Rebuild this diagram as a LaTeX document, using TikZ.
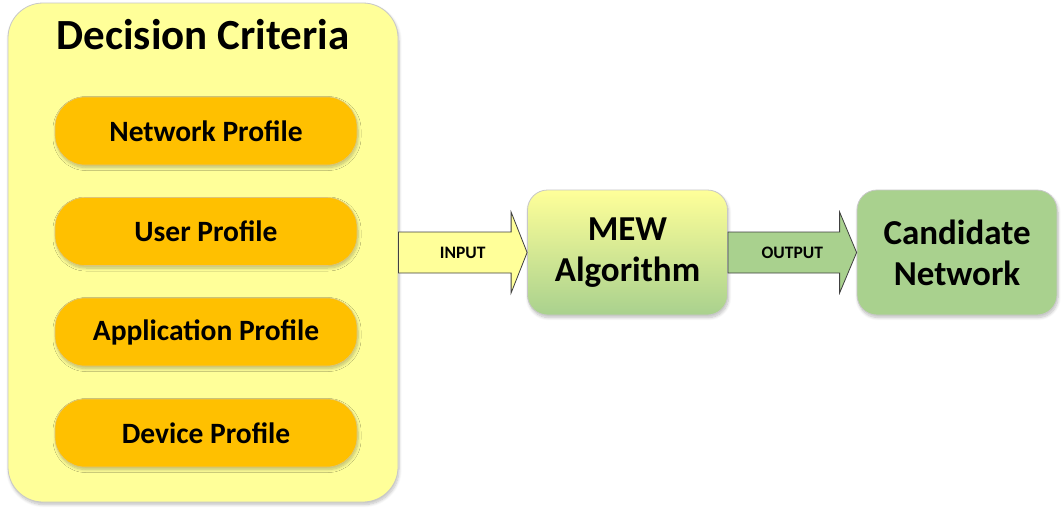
\documentclass[tikz,border=0pt]{standalone}
\usepackage{fontspec}
\setmainfont{Carlito}
\usetikzlibrary{calc,shadows.blur}
\definecolor{critfill}{HTML}{FFFF99}
\definecolor{profilefill}{HTML}{FFC000}
\definecolor{greenfill}{HTML}{A9D18E}
\definecolor{boxline}{HTML}{C8C8C8}
\definecolor{arrowline}{HTML}{404040}
\tikzset{
  softshadow/.style={blur shadow={shadow blur steps=8,shadow xshift=1pt,shadow yshift=-2.5pt,shadow opacity=25,shadow blur radius=3pt}},
  container/.style={draw=boxline,line width=0.8pt,fill=critfill,rounded corners=35pt,
    minimum width=390pt,minimum height=499pt,softshadow},
  profile/.style={draw=boxline!60!profilefill,line width=0.6pt,fill=profilefill,rounded corners=30pt,
    minimum width=302pt,minimum height=68pt,font=\bfseries\fontsize{29.5}{34}\selectfont,softshadow},
  stagebox/.style={draw=boxline,line width=0.8pt,rounded corners=20pt,minimum width=200pt,
    minimum height=125pt,align=center,font=\bfseries\fontsize{35}{41}\selectfont,softshadow},
  blockarrow/.style={draw=arrowline,line width=0.8pt,line join=miter},
  arrowlabel/.style={font=\bfseries\fontsize{17.5}{20}\selectfont},
}
\begin{document}
\begin{tikzpicture}[x=1pt,y=-1pt]
\useasboundingbox (0,0) rectangle (1062,509);

% decision criteria group
\node[container] (crit) at (203,252.5) {};
\node[font=\bfseries\fontsize{43}{48}\selectfont] (title) at (203,35) {Decision Criteria};
\node[profile] (net) at (206,131) {Network Profile};
\node[profile] (user) at (206,231.5) {User Profile};
\node[profile] (app) at (206,332) {Application Profile};
\node[profile] (dev) at (206,433) {Device Profile};

% processing and result
\node[stagebox,top color=critfill,bottom color=greenfill] (mew) at (627.5,252.5) {MEW\\Algorithm};
\node[stagebox,fill=greenfill] (cand) at (957,252.5) {Candidate\\Network};

% block arrows between the stages
\draw[blockarrow,fill=critfill]
  ($(crit.east)+(0,-20.5)$) -- ($(mew.west)+(-16,-20.5)$) -- ($(mew.west)+(-16,-40.5)$)
  -- (mew.west) -- ($(mew.west)+(-16,40.5)$) -- ($(mew.west)+(-16,20.5)$)
  -- ($(crit.east)+(0,20.5)$) -- cycle;
\node[arrowlabel] (inlabel) at ($(crit.east)!0.5!(mew.west)$) {INPUT};

\draw[blockarrow,fill=greenfill]
  ($(mew.east)+(0,-20.5)$) -- ($(cand.west)+(-17,-20.5)$) -- ($(cand.west)+(-17,-40.5)$)
  -- (cand.west) -- ($(cand.west)+(-17,40.5)$) -- ($(cand.west)+(-17,20.5)$)
  -- ($(mew.east)+(0,20.5)$) -- cycle;
\node[arrowlabel] (outlabel) at ($(mew.east)!0.5!(cand.west)$) {OUTPUT};
\end{tikzpicture}
\end{document}
